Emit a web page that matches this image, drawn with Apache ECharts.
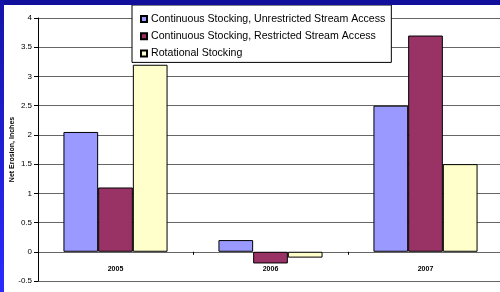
<!DOCTYPE html>
<html>
<head>
<meta charset="utf-8">
<script src="https://cdn.jsdelivr.net/npm/echarts@6/dist/echarts.min.js"></script>
<style>
  html, body { margin: 0; padding: 0; background: #fff; }
  #chart { width: 500px; height: 292px; }
</style>
</head>
<body>
<div id="chart"></div>
<script>
// data
const years = ['2005', '2006', '2007']
const unrestricted = [2.05, 0.2, 2.5]
const restricted = [1.1, -0.2, 3.7]
const rotational = [3.2, -0.1, 1.5]
const seriesNames = [
  'Continuous Stocking, Unrestricted Stream Access',
  'Continuous Stocking, Restricted Stream Access',
  'Rotational Stocking'
]
const seriesColors = ['#9999ff', '#993366', '#ffffcc']

function barSeries(name, data, color) {
  return {
    name: name,
    type: 'bar',
    data: data,
    barWidth: 34.7,
    barGap: '0%',
    itemStyle: { color: color, borderColor: '#000', borderWidth: 1 }
  }
}

function renderChart() {
  const chart = echarts.init(document.getElementById('chart'))
  const option = {
    backgroundColor: '#fff',
    animation: false,
    textStyle: { fontFamily: 'Arial, "Liberation Sans", sans-serif' },
    grid: { left: 38, right: -3, top: 18, bottom: 11, outerBoundsMode: 'none', containLabel: false },
    legend: {
      orient: 'vertical',
      left: 132,
      top: 5,
      padding: [8, 6, 3, 8],
      itemWidth: 6,
      itemHeight: 6,
      itemGap: 5.2,
      backgroundColor: '#fff',
      borderColor: '#000',
      borderWidth: 1,
      borderRadius: 0,
      icon: 'rect',
      textStyle: { fontSize: 10.6, color: '#000', lineHeight: 12, padding: [0, 0, 0, -1] },
      data: seriesNames
    },
    xAxis: {
      type: 'category',
      data: years,
      axisLine: { onZero: true, lineStyle: { color: '#666', width: 1 } },
      axisTick: { show: true, length: 3, lineStyle: { color: '#000' } },
      // labels sit under the zero line, not at the grid bottom
      axisLabel: { fontSize: 7, fontWeight: 'bold', color: '#000', margin: -15 },
      splitLine: { show: false }
    },
    yAxis: {
      type: 'value',
      min: -0.5,
      max: 4,
      interval: 0.5,
      name: 'Net Erosion, Inches',
      nameLocation: 'middle',
      nameGap: 22,
      nameMoveOverlap: false,
      nameTextStyle: { fontSize: 7, fontWeight: 'bold', color: '#000' },
      axisLine: { show: true, lineStyle: { color: '#000' } },
      axisTick: { show: true, inside: false, length: 4, lineStyle: { color: '#000' } },
      axisLabel: { fontSize: 8, color: '#000', margin: 6 },
      splitLine: { show: true, lineStyle: { color: '#666', width: 1 } }
    },
    graphic: [
      {
        type: 'rect',
        z: 100,
        shape: { x: 0, y: 0, width: 500, height: 5 },
        style: { fill: '#10109c' }
      },
      {
        type: 'rect',
        z: 100,
        shape: { x: 0, y: 0, width: 4, height: 292 },
        style: {
          fill: new echarts.graphic.LinearGradient(0, 0, 0, 1, [
            { offset: 0, color: '#1414a8' },
            { offset: 1, color: '#2a2aff' }
          ])
        }
      }
    ],
    series: [
      barSeries(seriesNames[0], unrestricted, seriesColors[0]),
      barSeries(seriesNames[1], restricted, seriesColors[1]),
      barSeries(seriesNames[2], rotational, seriesColors[2])
    ]
  }
  chart.setOption(option)
}

document.addEventListener('DOMContentLoaded', renderChart)
</script>
</body>
</html>
